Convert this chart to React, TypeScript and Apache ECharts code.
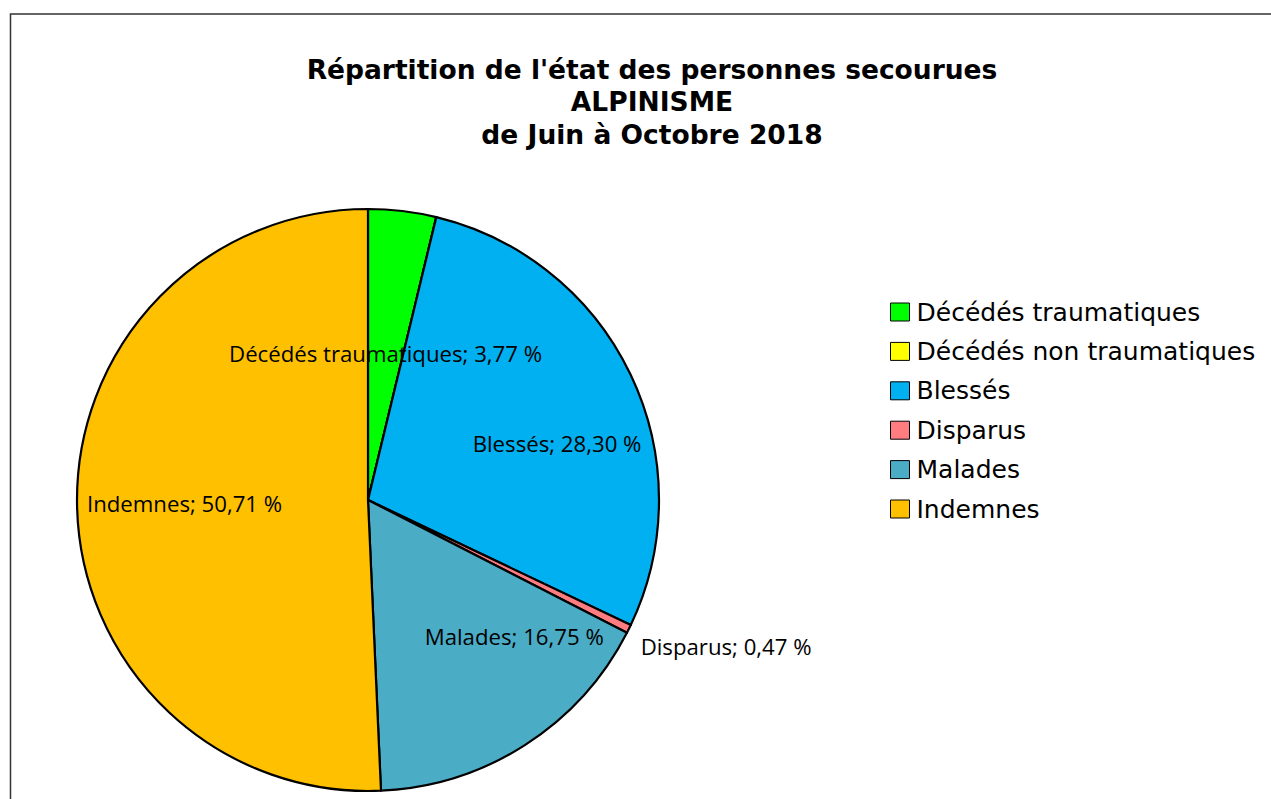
import React, { useEffect, useRef } from "react";
import * as echarts from "echarts";

const categories = [
  "Décédés traumatiques",
  "Décédés non traumatiques",
  "Blessés",
  "Disparus",
  "Malades",
  "Indemnes",
];
const values = [3.77, 0, 28.3, 0.47, 16.75, 50.71];
const colors = ["#00FF00", "#FFFF00", "#00B0F0", "#FF7C80", "#4BACC6", "#FFC000"];
const labelOffsets: Record<string, number[]> = {
  "Décédés traumatiques": [0, 1],
  Blessés: [55, 7],
  Disparus: [225, 81],
  Malades: [66, 12],
  Indemnes: [-35, 0],
};

const titleLines = [
  "Répartition de l'état des personnes secourues",
  "ALPINISME",
  "de Juin à Octobre 2018",
];

export default function App() {
  const ref = useRef<HTMLDivElement>(null);
  useEffect(() => {
    if (!ref.current) return;
    const chart = echarts.init(ref.current, null, { renderer: "svg" });
    const fmt = (v: number) => v.toFixed(2).replace(".", ",") + " %";
    chart.setOption({
      animation: false,
      backgroundColor: "#fff",
      title: {
        text: titleLines.join("\n"),
        left: 647,
        textAlign: "center",
        top: 48,
        textStyle: {
          fontFamily: "DejaVu Sans, sans-serif",
          fontWeight: "bold",
          fontSize: 26.5,
          lineHeight: 32.5,
          color: "#000",
        },
      },
      legend: {
        orient: "vertical",
        left: 885,
        top: 294.5,
        itemWidth: 19,
        itemHeight: 18,
        itemGap: 14.4,
        icon: "rect",
        data: categories,
        selectedMode: false,
        textStyle: {
          fontFamily: "DejaVu Sans, sans-serif",
          fontSize: 25,
          lineHeight: 25,
          color: "#000",
          padding: [0, 0, 0, 2],
        },
        itemStyle: { borderColor: "#000", borderWidth: 1 },
      },
      graphic: [
        {
          type: "rect",
          shape: { x: 10.5, y: 14, width: 1300, height: 900 },
          style: { fill: "none", stroke: "#333", lineWidth: 1.5 },
          z: 100,
        },
      ],
      series: [
        {
          type: "pie",
          center: [368, 500],
          radius: 291,
          startAngle: 90,
          clockwise: true,
          avoidLabelOverlap: false,
          minAngle: 0,
          itemStyle: { borderColor: "#000", borderWidth: 2.2 },
          emphasis: { disabled: true },
          labelLine: { show: false },
          label: {
            show: true,
            position: "inside",
            rotate: 0,
            fontFamily: "Open Sans, Noto Sans, sans-serif",
            fontSize: 22.2,
            color: "#000",
            formatter: (p: any) => `${p.name}; ${fmt(p.value)}`,
          },
          data: categories.map((name, i) => ({
            name,
            value: values[i],
            itemStyle: { color: colors[i] },
            label:
              values[i] === 0
                ? { show: false }
                : { offset: labelOffsets[name] || [0, 0] },
          })),
        },
      ],
    });
    return () => chart.dispose();
  }, []);
  return (
    <div
      ref={ref}
      style={{ position: "fixed", left: 0, top: 0, width: 1271, height: 799 }}
    />
  );
}
